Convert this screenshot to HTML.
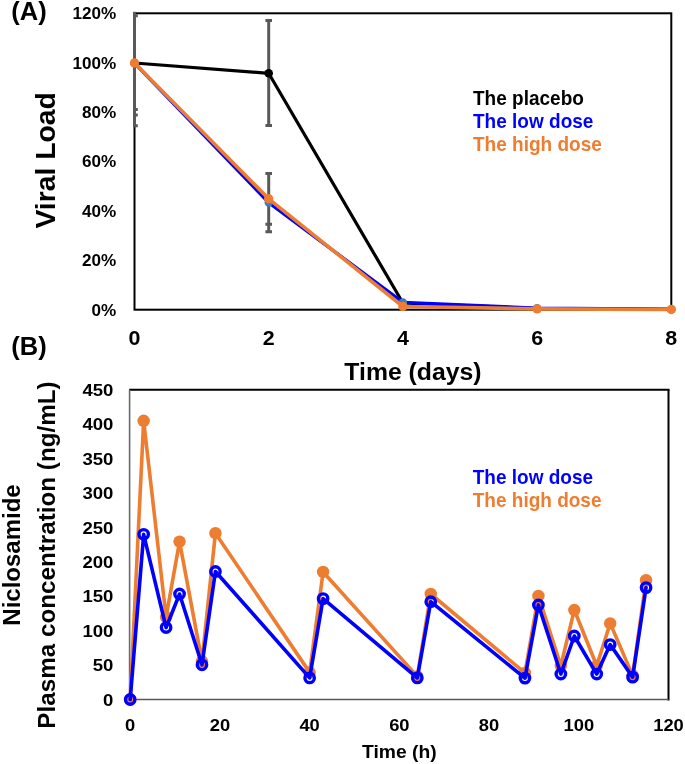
<!DOCTYPE html>
<html><head><meta charset="utf-8"><title>Chart</title>
<style>html,body{margin:0;padding:0;background:#fff;width:685px;height:764px;overflow:hidden}svg{display:block;will-change:transform}svg text{font-family:"Liberation Sans",sans-serif;font-weight:bold}</style>
</head><body>
<svg width="685" height="764" viewBox="0 0 685 764">
<rect width="685" height="764" fill="#fff"/>
<defs><clipPath id="ca"><rect x="133.0" y="11.8" width="539.8" height="299.2"/></clipPath><clipPath id="cb"><rect x="129.2" y="388.8" width="540.3" height="311.7"/></clipPath></defs>
<rect x="134.5" y="13.3" width="536.8" height="296.4" fill="none" stroke="#000" stroke-width="2"/>
<g clip-path="url(#ca)" stroke="#595959" stroke-width="3.0" fill="none"><line x1="134.5" y1="11.3" x2="134.5" y2="127.0"/><line x1="131.2" y1="15.8" x2="137.8" y2="15.8"/><line x1="131.2" y1="109.6" x2="137.8" y2="109.6"/><line x1="131.2" y1="115.1" x2="137.8" y2="115.1"/><line x1="131.2" y1="125.7" x2="137.8" y2="125.7"/></g>
<g clip-path="url(#ca)" stroke="#595959" stroke-width="3.0" fill="none"><line x1="268.7" y1="20.5" x2="268.7" y2="125.4"/><line x1="265.4" y1="20.5" x2="272.0" y2="20.5"/><line x1="265.4" y1="125.4" x2="272.0" y2="125.4"/></g>
<g clip-path="url(#ca)" stroke="#595959" stroke-width="3.0" fill="none"><line x1="268.7" y1="173.6" x2="268.7" y2="231.7"/><line x1="265.4" y1="173.6" x2="272.0" y2="173.6"/><line x1="265.4" y1="224.2" x2="272.0" y2="224.2"/><line x1="265.4" y1="231.7" x2="272.0" y2="231.7"/></g>
<polyline points="134.50,63.00 268.70,73.30 402.90,303.00 537.10,308.50 671.30,309.50" fill="none" stroke="#000000" stroke-width="3.20" stroke-linejoin="round" stroke-linecap="round"/>
<circle cx="134.50" cy="63.00" r="4.3" fill="#000000"/>
<circle cx="268.70" cy="73.30" r="4.3" fill="#000000"/>
<polyline points="134.50,63.00 268.70,202.60 402.90,302.40 537.10,308.10 671.30,309.20" fill="none" stroke="#0000FF" stroke-width="3.30" stroke-linejoin="round" stroke-linecap="round"/>
<circle cx="134.50" cy="63.00" r="4.2" fill="#3A7CC9"/>
<circle cx="268.70" cy="202.60" r="4.2" fill="#3A7CC9"/>
<circle cx="402.90" cy="302.40" r="4.2" fill="#3A7CC9"/>
<circle cx="537.10" cy="308.10" r="4.2" fill="#3A7CC9"/>
<circle cx="671.30" cy="309.20" r="4.2" fill="#3A7CC9"/>
<polyline points="134.50,63.00 268.70,198.80 402.90,306.50 537.10,308.90 671.30,309.50" fill="none" stroke="#ED7D31" stroke-width="3.60" stroke-linejoin="round" stroke-linecap="round"/>
<circle cx="134.50" cy="63.00" r="4.7" fill="#ED7D31"/>
<circle cx="268.70" cy="198.80" r="4.7" fill="#ED7D31"/>
<circle cx="402.90" cy="306.50" r="4.7" fill="#ED7D31"/>
<circle cx="537.10" cy="308.90" r="4.7" fill="#ED7D31"/>
<circle cx="671.30" cy="309.50" r="4.7" fill="#ED7D31"/>
<g font-family="Liberation Sans, sans-serif" font-weight="bold">
<text transform="translate(116.30,315.50) scale(1.0200,1)" font-size="16.80" text-anchor="end" fill="#000">0%</text>
<text transform="translate(116.30,266.13) scale(1.0200,1)" font-size="16.80" text-anchor="end" fill="#000">20%</text>
<text transform="translate(116.30,216.77) scale(1.0200,1)" font-size="16.80" text-anchor="end" fill="#000">40%</text>
<text transform="translate(116.30,167.40) scale(1.0200,1)" font-size="16.80" text-anchor="end" fill="#000">60%</text>
<text transform="translate(116.30,118.03) scale(1.0200,1)" font-size="16.80" text-anchor="end" fill="#000">80%</text>
<text transform="translate(116.30,68.67) scale(1.0200,1)" font-size="16.80" text-anchor="end" fill="#000">100%</text>
<text transform="translate(116.30,19.30) scale(1.0200,1)" font-size="16.80" text-anchor="end" fill="#000">120%</text>
<text transform="translate(134.50,345.00) scale(1.1000,1)" font-size="19.50" text-anchor="middle" fill="#000">0</text>
<text transform="translate(268.70,345.00) scale(1.1000,1)" font-size="19.50" text-anchor="middle" fill="#000">2</text>
<text transform="translate(402.90,345.00) scale(1.1000,1)" font-size="19.50" text-anchor="middle" fill="#000">4</text>
<text transform="translate(537.10,345.00) scale(1.1000,1)" font-size="19.50" text-anchor="middle" fill="#000">6</text>
<text transform="translate(671.30,345.00) scale(1.1000,1)" font-size="19.50" text-anchor="middle" fill="#000">8</text>
<text transform="translate(412.90,379.60) scale(1.0110,1)" font-size="24.50" text-anchor="middle" fill="#000">Time (days)</text>
<text transform="translate(54.60,160.30) rotate(-90) scale(1.0310,1)" font-size="27.50" text-anchor="middle" fill="#000">Viral Load</text>
<text transform="translate(11.30,19.80)" font-size="25.50" text-anchor="start" fill="#000">(A)</text>
<text transform="translate(11.30,354.70)" font-size="25.50" text-anchor="start" fill="#000">(B)</text>
<text transform="translate(473.00,104.50) scale(0.9750,1)" font-size="19.50" text-anchor="start" fill="#000000">The placebo</text>
<text transform="translate(473.00,127.90) scale(0.9750,1)" font-size="19.50" text-anchor="start" fill="#0000FF">The low dose</text>
<text transform="translate(473.00,150.90) scale(0.9750,1)" font-size="19.50" text-anchor="start" fill="#ED7D31">The high dose</text>
</g>
<line x1="129.2" y1="389.8" x2="669.5" y2="389.8" stroke="#000" stroke-width="2"/>
<line x1="668.5" y1="389.8" x2="668.5" y2="700.5" stroke="#000" stroke-width="2"/>
<line x1="129.6" y1="389.8" x2="129.6" y2="699.5" stroke="#6a6a6a" stroke-width="1.6"/>
<line x1="130.2" y1="699.5" x2="668.5" y2="699.5" stroke="#595959" stroke-width="1.5"/>
<polyline points="130.20,699.50 143.66,420.77 166.09,617.12 179.54,541.62 201.97,661.30 215.43,533.23 309.63,672.38 323.09,571.97 417.29,676.38 430.75,594.00 524.95,672.93 538.41,595.92 560.84,665.78 574.30,610.03 596.73,665.78 610.18,623.38 632.61,675.41 646.07,580.16" fill="none" stroke="#ED7D31" stroke-width="3.60" stroke-linejoin="round" stroke-linecap="round"/>
<circle cx="130.20" cy="699.50" r="6.2" fill="#ED7D31"/>
<circle cx="143.66" cy="420.77" r="6.2" fill="#ED7D31"/>
<circle cx="166.09" cy="617.12" r="6.2" fill="#ED7D31"/>
<circle cx="179.54" cy="541.62" r="6.2" fill="#ED7D31"/>
<circle cx="201.97" cy="661.30" r="6.2" fill="#ED7D31"/>
<circle cx="215.43" cy="533.23" r="6.2" fill="#ED7D31"/>
<circle cx="309.63" cy="672.38" r="6.2" fill="#ED7D31"/>
<circle cx="323.09" cy="571.97" r="6.2" fill="#ED7D31"/>
<circle cx="417.29" cy="676.38" r="6.2" fill="#ED7D31"/>
<circle cx="430.75" cy="594.00" r="6.2" fill="#ED7D31"/>
<circle cx="524.95" cy="672.93" r="6.2" fill="#ED7D31"/>
<circle cx="538.41" cy="595.92" r="6.2" fill="#ED7D31"/>
<circle cx="560.84" cy="665.78" r="6.2" fill="#ED7D31"/>
<circle cx="574.30" cy="610.03" r="6.2" fill="#ED7D31"/>
<circle cx="596.73" cy="665.78" r="6.2" fill="#ED7D31"/>
<circle cx="610.18" cy="623.38" r="6.2" fill="#ED7D31"/>
<circle cx="632.61" cy="675.41" r="6.2" fill="#ED7D31"/>
<circle cx="646.07" cy="580.16" r="6.2" fill="#ED7D31"/>
<polyline points="130.20,699.50 143.66,534.33 166.09,627.58 179.54,594.00 201.97,664.81 215.43,571.49 309.63,677.89 323.09,598.61 417.29,677.89 430.75,601.70 524.95,678.10 538.41,604.94 560.84,674.04 574.30,635.98 596.73,674.04 610.18,644.58 632.61,677.13 646.07,587.60" fill="none" stroke="#0000FF" stroke-width="3.60" stroke-linejoin="round" stroke-linecap="round"/>
<circle cx="130.20" cy="699.50" r="4.7" fill="none" stroke="#0000FF" stroke-width="3.4"/>
<circle cx="143.66" cy="534.33" r="4.7" fill="none" stroke="#0000FF" stroke-width="3.4"/>
<circle cx="166.09" cy="627.58" r="4.7" fill="none" stroke="#0000FF" stroke-width="3.4"/>
<circle cx="179.54" cy="594.00" r="4.7" fill="none" stroke="#0000FF" stroke-width="3.4"/>
<circle cx="201.97" cy="664.81" r="4.7" fill="none" stroke="#0000FF" stroke-width="3.4"/>
<circle cx="215.43" cy="571.49" r="4.7" fill="none" stroke="#0000FF" stroke-width="3.4"/>
<circle cx="309.63" cy="677.89" r="4.7" fill="none" stroke="#0000FF" stroke-width="3.4"/>
<circle cx="323.09" cy="598.61" r="4.7" fill="none" stroke="#0000FF" stroke-width="3.4"/>
<circle cx="417.29" cy="677.89" r="4.7" fill="none" stroke="#0000FF" stroke-width="3.4"/>
<circle cx="430.75" cy="601.70" r="4.7" fill="none" stroke="#0000FF" stroke-width="3.4"/>
<circle cx="524.95" cy="678.10" r="4.7" fill="none" stroke="#0000FF" stroke-width="3.4"/>
<circle cx="538.41" cy="604.94" r="4.7" fill="none" stroke="#0000FF" stroke-width="3.4"/>
<circle cx="560.84" cy="674.04" r="4.7" fill="none" stroke="#0000FF" stroke-width="3.4"/>
<circle cx="574.30" cy="635.98" r="4.7" fill="none" stroke="#0000FF" stroke-width="3.4"/>
<circle cx="596.73" cy="674.04" r="4.7" fill="none" stroke="#0000FF" stroke-width="3.4"/>
<circle cx="610.18" cy="644.58" r="4.7" fill="none" stroke="#0000FF" stroke-width="3.4"/>
<circle cx="632.61" cy="677.13" r="4.7" fill="none" stroke="#0000FF" stroke-width="3.4"/>
<circle cx="646.07" cy="587.60" r="4.7" fill="none" stroke="#0000FF" stroke-width="3.4"/>
<g font-family="Liberation Sans, sans-serif" font-weight="bold">
<text transform="translate(113.40,705.60) scale(1.0790,1)" font-size="17.20" text-anchor="end" fill="#000">0</text>
<text transform="translate(113.40,671.19) scale(1.0790,1)" font-size="17.20" text-anchor="end" fill="#000">50</text>
<text transform="translate(113.40,636.78) scale(1.0790,1)" font-size="17.20" text-anchor="end" fill="#000">100</text>
<text transform="translate(113.40,602.37) scale(1.0790,1)" font-size="17.20" text-anchor="end" fill="#000">150</text>
<text transform="translate(113.40,567.96) scale(1.0790,1)" font-size="17.20" text-anchor="end" fill="#000">200</text>
<text transform="translate(113.40,533.54) scale(1.0790,1)" font-size="17.20" text-anchor="end" fill="#000">250</text>
<text transform="translate(113.40,499.13) scale(1.0790,1)" font-size="17.20" text-anchor="end" fill="#000">300</text>
<text transform="translate(113.40,464.72) scale(1.0790,1)" font-size="17.20" text-anchor="end" fill="#000">350</text>
<text transform="translate(113.40,430.31) scale(1.0790,1)" font-size="17.20" text-anchor="end" fill="#000">400</text>
<text transform="translate(113.40,395.90) scale(1.0790,1)" font-size="17.20" text-anchor="end" fill="#000">450</text>
<text transform="translate(130.20,731.00) scale(1.1200,1)" font-size="16.40" text-anchor="middle" fill="#000">0</text>
<text transform="translate(219.92,731.00) scale(1.1200,1)" font-size="16.40" text-anchor="middle" fill="#000">20</text>
<text transform="translate(309.63,731.00) scale(1.1200,1)" font-size="16.40" text-anchor="middle" fill="#000">40</text>
<text transform="translate(399.35,731.00) scale(1.1200,1)" font-size="16.40" text-anchor="middle" fill="#000">60</text>
<text transform="translate(489.07,731.00) scale(1.1200,1)" font-size="16.40" text-anchor="middle" fill="#000">80</text>
<text transform="translate(578.78,731.00) scale(1.1200,1)" font-size="16.40" text-anchor="middle" fill="#000">100</text>
<text transform="translate(668.50,731.00) scale(1.1200,1)" font-size="16.40" text-anchor="middle" fill="#000">120</text>
<text transform="translate(399.30,757.80) scale(1.0100,1)" font-size="19.10" text-anchor="middle" fill="#000">Time (h)</text>
<text transform="translate(20.3,555) rotate(-90)" font-size="24" text-anchor="middle">Niclosamide</text>
<text transform="translate(54.70,555.00) rotate(-90) scale(1.0096,1)" font-size="24.00" text-anchor="middle" fill="#000">Plasma concentration (ng/mL)</text>
<text transform="translate(472.70,484.00) scale(0.9750,1)" font-size="19.50" text-anchor="start" fill="#0000FF">The low dose</text>
<text transform="translate(472.70,507.00) scale(0.9750,1)" font-size="19.50" text-anchor="start" fill="#ED7D31">The high dose</text>
</g>
</svg>
</body></html>
